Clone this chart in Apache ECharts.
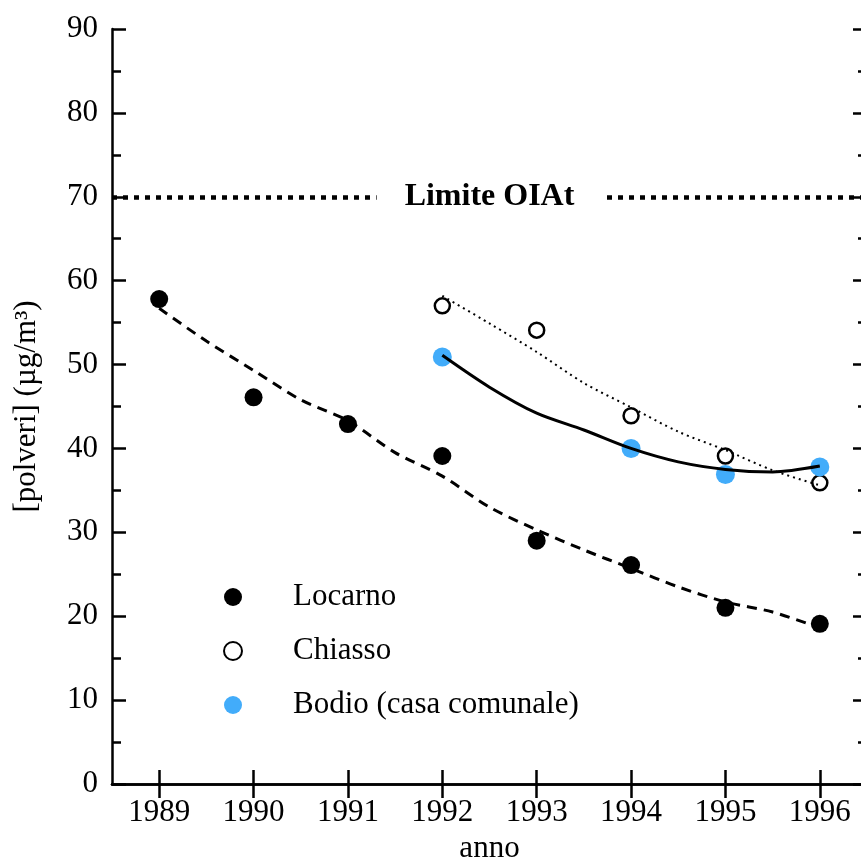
<!DOCTYPE html>
<html>
<head>
<meta charset="utf-8">
<script src="https://cdn.jsdelivr.net/npm/echarts@6/dist/echarts.min.js"></script>
<style>
  html, body { margin: 0; padding: 0; background: #fff; }
  #chart { width: 861px; height: 857px; }
</style>
</head>
<body>
<div id="chart"></div>
<script>
// Annual mean dust concentration [polveri], µg/m³
var years = [1989, 1990, 1991, 1992, 1993, 1994, 1995, 1996];
var locarno = [57.8, 46.1, 42.9, 39.1, 29.0, 26.1, 21.0, 19.1];
var chiassoYears = [1992, 1993, 1994, 1995, 1996];
var chiasso = [57.0, 54.1, 43.9, 39.1, 35.9];
var bodioYears = [1992, 1994, 1995, 1996];
var bodio = [50.9, 40.0, 36.9, 37.8];

// Smoothed trend curves (sampled every half year)
var locarnoTrendYears = [1989, 1989.5, 1990, 1990.5, 1991, 1991.5, 1992, 1992.5, 1993, 1993.5, 1994, 1994.5, 1995, 1995.5, 1996];
var locarnoTrend = [56.7, 52.8, 49.3, 45.8, 43.3, 39.5, 36.7, 33.0, 30.3, 27.9, 25.7, 23.5, 21.7, 20.5, 18.6];
var chiassoTrendYears = [1992, 1992.5, 1993, 1993.5, 1994, 1994.5, 1995, 1995.5, 1996];
var chiassoTrend = [58.2, 54.9, 51.5, 47.8, 44.9, 42.0, 39.8, 37.4, 35.6];
var bodioTrendYears = [1992, 1992.5, 1993, 1993.5, 1994, 1994.5, 1995, 1995.5, 1996];
var bodioTrend = [51.1, 47.3, 44.2, 42.2, 40.0, 38.4, 37.5, 37.2, 37.9];

var limitValue = 70;
var limitLabel = 'Limite OIAt';

function pairs(xs, ys) { return xs.map(function (x, i) { return [x, ys[i]]; }); }

var FONT = 'Liberation Serif';
var BLUE = '#42acfa';

var chart = echarts.init(document.getElementById('chart'), null, { renderer: 'canvas' });

var axisLine = { show: true, lineStyle: { color: '#000', width: 2.5 } };
var majorTick = { show: true, inside: true, length: 14, lineStyle: { color: '#000', width: 2.5 } };

chart.setOption({
  animation: false,
  backgroundColor: '#fff',
  grid: { left: 112, top: 29, width: 755, height: 755, containLabel: false, outerBoundsMode: 'none' },
  legend: {
    data: ['Locarno', 'Chiasso', 'Bodio (casa comunale)'],
    orient: 'vertical',
    left: 223,
    top: 581,
    padding: 0,
    itemWidth: 18,
    itemHeight: 18,
    itemGap: 22,
    textStyle: { fontFamily: FONT, fontSize: 31, lineHeight: 32, color: '#000', padding: [0, 0, 0, 46] }
  },
  xAxis: [{
    type: 'value', position: 'bottom', min: 1988.5, max: 1996.5,
    name: 'anno', nameLocation: 'middle', nameGap: 47,
    nameTextStyle: { fontFamily: FONT, fontSize: 31, color: '#000' },
    axisLine: axisLine,
    axisTick: Object.assign({ customValues: years }, majorTick),
    axisLabel: { fontFamily: FONT, fontSize: 31, color: '#000', margin: 13, customValues: years, formatter: function (v) { return String(v); } },
    splitLine: { show: false }
  }, {
    type: 'value', position: 'top', min: 1988.5, max: 1996.5,
    axisLine: axisLine,
    axisTick: Object.assign({ customValues: years }, majorTick),
    axisLabel: { show: false },
    splitLine: { show: false }
  }],
  yAxis: [{
    type: 'value', position: 'left', min: 0, max: 90, interval: 10,
    name: '[polveri] (µg/m³)', nameLocation: 'middle', nameGap: 70, nameRotate: 90,
    nameTextStyle: { fontFamily: FONT, fontSize: 31, color: '#000' },
    axisLine: axisLine,
    axisTick: majorTick,
    minorTick: { show: true, splitNumber: 2, length: 9, lineStyle: { color: '#000', width: 2.5 } },
    axisLabel: { fontFamily: FONT, fontSize: 31, color: '#000', margin: 14 },
    splitLine: { show: false }, minorSplitLine: { show: false }
  }, {
    type: 'value', position: 'right', min: 0, max: 90, interval: 10,
    axisLine: axisLine,
    axisTick: majorTick,
    minorTick: { show: true, splitNumber: 2, length: 9, lineStyle: { color: '#000', width: 2.5 } },
    axisLabel: { show: false },
    splitLine: { show: false }
  }],
  series: [
    {
      name: 'Locarno', type: 'scatter', symbol: 'circle', symbolSize: 18, z: 2,
      itemStyle: { color: '#000', opacity: 1 },
      data: pairs(years, locarno)
    },
    {
      name: 'Chiasso', type: 'scatter', symbol: 'circle', symbolSize: 15, z: 2,
      itemStyle: { color: '#fff', borderColor: '#000', borderWidth: 2.5, opacity: 1 },
      data: pairs(chiassoYears, chiasso)
    },
    {
      name: 'Bodio (casa comunale)', type: 'scatter', symbol: 'circle', symbolSize: 19, z: 2,
      itemStyle: { color: BLUE, opacity: 1 },
      data: pairs(bodioYears, bodio)
    },
    {
      name: 'trend Locarno', type: 'line', smooth: 0.3, showSymbol: false, z: 3,
      lineStyle: { color: '#000', width: 3, type: [10, 7] },
      data: pairs(locarnoTrendYears, locarnoTrend),
      markLine: {
        silent: true, symbol: 'none',
        lineStyle: { color: '#000', width: 4.5, type: [5, 6] },
        label: {
          show: true, position: 'middle', distance: 0, verticalAlign: 'middle',
          formatter: limitLabel,
          fontFamily: FONT, fontSize: 32, fontWeight: 'bold', color: '#000',
          backgroundColor: '#fff', padding: [6, 28, 6, 28]
        },
        data: [{ yAxis: limitValue }]
      }
    },
    {
      name: 'trend Chiasso', type: 'line', smooth: 0.3, showSymbol: false, z: 3,
      lineStyle: { color: '#000', width: 2, type: [2, 4] },
      data: pairs(chiassoTrendYears, chiassoTrend)
    },
    {
      name: 'trend Bodio', type: 'line', smooth: 0.3, showSymbol: false, z: 3,
      lineStyle: { color: '#000', width: 3 },
      data: pairs(bodioTrendYears, bodioTrend)
    }
  ]
});
</script>
</body>
</html>
